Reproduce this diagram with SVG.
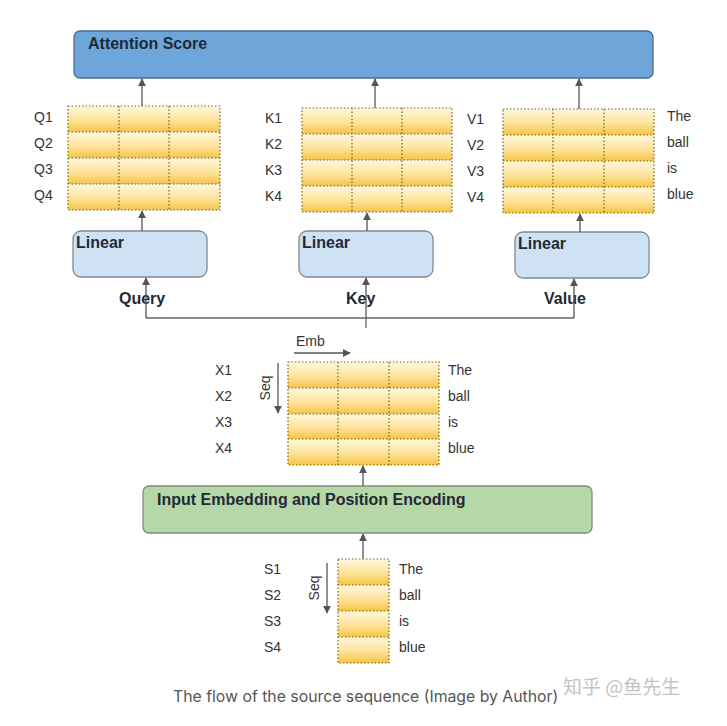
<svg xmlns="http://www.w3.org/2000/svg" width="727" height="726" viewBox="0 0 727 726">
<defs>
<linearGradient id="cellg" x1="0" y1="0" x2="0" y2="1">
<stop offset="0" stop-color="#fff7de"/>
<stop offset="0.55" stop-color="#fde39a"/>
<stop offset="1" stop-color="#f5c446"/>
</linearGradient>
<marker id="ah" viewBox="0 0 10 10" refX="9" refY="5" markerWidth="8" markerHeight="8" markerUnits="userSpaceOnUse" orient="auto">
<path d="M0,0 L10,5 L0,10 z" fill="#555"/>
</marker>
</defs>
<style>
.lbl{font-family:"Liberation Sans",Arial,sans-serif;font-size:14px;fill:#333}
.bold{font-family:"Liberation Sans",Arial,sans-serif;font-size:16px;font-weight:bold;fill:#1f2a36}
.row{fill:url(#cellg)}
.grid{fill:none;stroke:#7a6424;stroke-width:1.2;stroke-dasharray:1.5 2}
.conn{fill:none;stroke:#666;stroke-width:1.3}
.arr{fill:none;stroke:#555;stroke-width:1.3;marker-end:url(#ah)}
</style>
<rect width="727" height="726" fill="#ffffff"/>

<g id="attention">
<rect x="74" y="31" width="579" height="47" rx="6" fill="#6ea6da" stroke="#4a6e92" stroke-width="1.3"/>
<text class="bold" x="88" y="49" fill="#1a2a3a">Attention Score</text>
</g>

<g id="q-matrix">
<rect class="row" x="68" y="106" width="152" height="26"/>
<rect class="row" x="68" y="132" width="152" height="26"/>
<rect class="row" x="68" y="158" width="152" height="26"/>
<rect class="row" x="68" y="184" width="152" height="26"/>
<path class="grid" d="M68,106H220V210H68Z M68,132H220 M68,158H220 M68,184H220 M119,106V210 M169,106V210"/>
<text class="lbl" x="34" y="122">Q1</text>
<text class="lbl" x="34" y="148">Q2</text>
<text class="lbl" x="34" y="174">Q3</text>
<text class="lbl" x="34" y="200">Q4</text>
</g>

<g id="k-matrix">
<rect class="row" x="302" y="108" width="150" height="26"/>
<rect class="row" x="302" y="134" width="150" height="26"/>
<rect class="row" x="302" y="160" width="150" height="26"/>
<rect class="row" x="302" y="186" width="150" height="26"/>
<path class="grid" d="M302,108H452V212H302Z M302,134H452 M302,160H452 M302,186H452 M352,108V212 M402,108V212"/>
<text class="lbl" x="265" y="123">K1</text>
<text class="lbl" x="265" y="149">K2</text>
<text class="lbl" x="265" y="175">K3</text>
<text class="lbl" x="265" y="201">K4</text>
</g>

<g id="v-matrix">
<rect class="row" x="503" y="109" width="151" height="26"/>
<rect class="row" x="503" y="135" width="151" height="26"/>
<rect class="row" x="503" y="161" width="151" height="26"/>
<rect class="row" x="503" y="187" width="151" height="26"/>
<path class="grid" d="M503,109H654V213H503Z M503,135H654 M503,161H654 M503,187H654 M553,109V213 M604,109V213"/>
<text class="lbl" x="467" y="124">V1</text>
<text class="lbl" x="467" y="150">V2</text>
<text class="lbl" x="467" y="176">V3</text>
<text class="lbl" x="467" y="202">V4</text>
<text class="lbl" x="667" y="121">The</text>
<text class="lbl" x="667" y="147">ball</text>
<text class="lbl" x="667" y="173">is</text>
<text class="lbl" x="667" y="199">blue</text>
</g>

<g id="linear-q">
<rect x="73" y="231" width="134" height="46" rx="8" fill="#cfe2f3" stroke="#7d8a96" stroke-width="1.3"/>
<text class="bold" x="76" y="248">Linear</text>
</g>
<g id="linear-k">
<rect x="299" y="231" width="134" height="46" rx="8" fill="#cfe2f3" stroke="#7d8a96" stroke-width="1.3"/>
<text class="bold" x="302" y="248">Linear</text>
</g>
<g id="linear-v">
<rect x="515" y="232" width="134" height="46" rx="8" fill="#cfe2f3" stroke="#7d8a96" stroke-width="1.3"/>
<text class="bold" x="518" y="249">Linear</text>
</g>

<g id="labels-qkv">
<text class="bold" x="119" y="304" fill="#222">Query</text>
<text class="bold" x="346" y="304" fill="#222">Key</text>
<text class="bold" x="544" y="304" fill="#222">Value</text>
</g>

<g id="x-matrix">
<rect class="row" x="288" y="362" width="151" height="26"/>
<rect class="row" x="288" y="388" width="151" height="26"/>
<rect class="row" x="288" y="414" width="151" height="25"/>
<rect class="row" x="288" y="439" width="151" height="26"/>
<path class="grid" d="M288,362H439V465H288Z M288,388H439 M288,414H439 M288,439H439 M338,362V465 M389,362V465"/>
<text class="lbl" x="215" y="375">X1</text>
<text class="lbl" x="215" y="401">X2</text>
<text class="lbl" x="215" y="427">X3</text>
<text class="lbl" x="215" y="453">X4</text>
<text class="lbl" x="448" y="375">The</text>
<text class="lbl" x="448" y="401">ball</text>
<text class="lbl" x="448" y="427">is</text>
<text class="lbl" x="448" y="453">blue</text>
<text class="lbl" x="296" y="346">Emb</text>
<path class="arr" d="M294,353H350"/>
<path class="arr" d="M278,363V413"/>
<text class="lbl" transform="translate(270,388) rotate(-90)" text-anchor="middle">Seq</text>
</g>

<g id="embedding">
<rect x="143" y="486" width="449" height="47" rx="6" fill="#b6d7a8" stroke="#7f8f7a" stroke-width="1.3"/>
<text class="bold" x="157" y="505" fill="#1f2f1a">Input Embedding and Position Encoding</text>
</g>

<g id="s-matrix">
<rect class="row" x="338" y="559" width="51" height="26"/>
<rect class="row" x="338" y="585" width="51" height="26"/>
<rect class="row" x="338" y="611" width="51" height="26"/>
<rect class="row" x="338" y="637" width="51" height="26"/>
<path class="grid" d="M338,559H389V663H338Z M338,585H389 M338,611H389 M338,637H389"/>
<text class="lbl" x="264" y="574">S1</text>
<text class="lbl" x="264" y="600">S2</text>
<text class="lbl" x="264" y="626">S3</text>
<text class="lbl" x="264" y="652">S4</text>
<text class="lbl" x="399" y="574">The</text>
<text class="lbl" x="399" y="600">ball</text>
<text class="lbl" x="399" y="626">is</text>
<text class="lbl" x="399" y="652">blue</text>
<path class="arr" d="M327,563V613"/>
<text class="lbl" transform="translate(319,588) rotate(-90)" text-anchor="middle">Seq</text>
</g>

<g id="connectors">
<path class="arr" d="M142,106V79"/>
<path class="arr" d="M375,108V79"/>
<path class="arr" d="M579,109V79"/>
<path class="arr" d="M142,231V211"/>
<path class="arr" d="M367,231V213"/>
<path class="arr" d="M580,232V214"/>
<path class="conn" d="M366,328V318 M146,318H574"/>
<path class="arr" d="M146,318V278"/>
<path class="arr" d="M366,318V278"/>
<path class="arr" d="M574,318V279"/>
<path class="arr" d="M363,486V466"/>
<path class="arr" d="M363,559V534"/>
</g>

<g id="caption">
<text x="173" y="702" font-family="Inter,'Noto Sans',sans-serif" font-size="15.8" fill="#555">The flow of the source sequence (Image by Author)</text>
<text x="563" y="694" font-family="'Noto Sans CJK SC',sans-serif" font-size="19" fill="#c4c4c4">知乎 @鱼先生</text>
</g>
</svg>
